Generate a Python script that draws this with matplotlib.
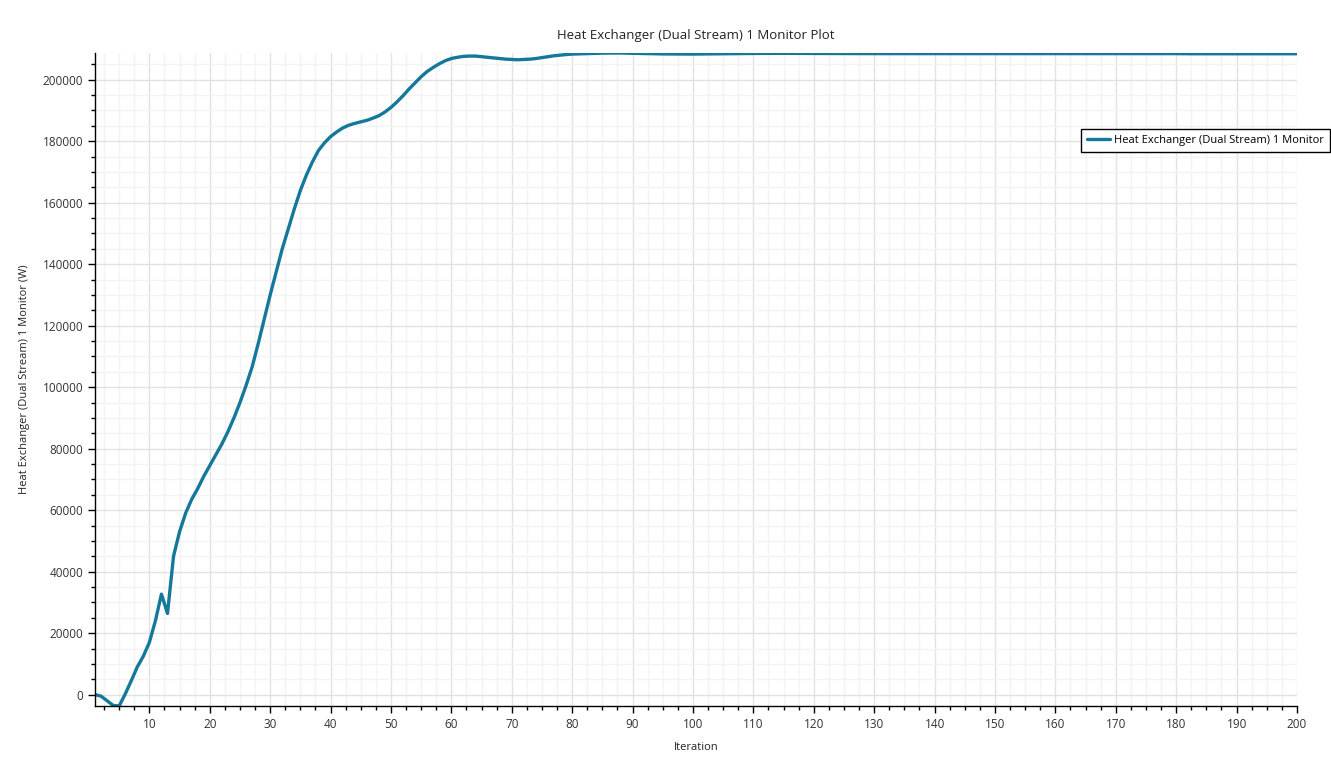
import matplotlib
matplotlib.use("Agg")
import matplotlib.pyplot as plt
from matplotlib.ticker import MultipleLocator, FormatStrFormatter

plt.rcParams['font.family'] = ['Open Sans', 'DejaVu Sans']

iterations = list(range(1, 81)) + [85, 88, 90, 95, 100, 105, 110, 115, 120, 130, 140, 150, 160, 170, 180, 183, 190, 200]
heat_w = [
    0, -500, -2000, -3500, -3700, 200, 4500, 9000, 12500, 17000,
    24000, 32700, 26400, 45000, 53000, 59000, 63500, 67000, 71000, 74500,
    78000, 81500, 85500, 90000, 95000, 100500, 106500, 114000, 122000, 130000,
    137500, 145000, 151500, 158000, 164000, 169000, 173300, 177000, 179500, 181500,
    183000, 184300, 185200, 185800, 186300, 186800, 187500, 188300, 189500, 191000,
    192800, 194800, 197000, 199000, 201000, 202700, 204000, 205200, 206200, 206900,
    207300, 207600, 207700, 207700, 207500, 207300, 207100, 206900, 206700, 206600,
    206500, 206600, 206700, 206900, 207200, 207500, 207800, 208000, 208200, 208350,
    208650, 208700, 208600, 208400, 208350, 208450, 208550, 208600, 208550, 208500,
    208500, 208500, 208500, 208500, 208500, 208450, 208450, 208450,
]

series_name = "Heat Exchanger (Dual Stream) 1 Monitor"
title = "Heat Exchanger (Dual Stream) 1 Monitor Plot"
x_label = "Iteration"
y_label = "Heat Exchanger (Dual Stream) 1 Monitor (W)"

W, H = 1331, 765
fig = plt.figure(figsize=(W / 100, H / 100), dpi=100)
ax = fig.add_axes([95 / W, 1 - 706 / H, (1297 - 95) / W, (706 - 53) / H])

ax.plot(iterations, heat_w, color='#14789a', lw=2.4, label=series_name, solid_capstyle='round')

ax.set_xlim(1, 200)
ax.set_ylim(min(heat_w), max(heat_w))

ax.xaxis.set_major_locator(MultipleLocator(10))
ax.xaxis.set_minor_locator(MultipleLocator(2.5))
ax.yaxis.set_major_locator(MultipleLocator(20000))
ax.yaxis.set_minor_locator(MultipleLocator(5000))
ax.yaxis.set_major_formatter(FormatStrFormatter('%d'))

ax.grid(which='major', color='#e2e2e2', lw=1.0)
ax.grid(which='minor', color='#f3f3f3', lw=1.0)
ax.set_axisbelow(True)

for s in ('top', 'right'):
    ax.spines[s].set_visible(False)
for s in ('left', 'bottom'):
    ax.spines[s].set_color('black')
    ax.spines[s].set_linewidth(1.0)

ax.tick_params(which='major', length=5, width=1, colors='black', labelcolor='#333333', labelsize=8.5)
ax.tick_params(which='minor', length=3, width=1, colors='black')

ax.set_title(title, fontsize=9.5, color='#222222', pad=10)
ax.set_xlabel(x_label, fontsize=8, color='#222222', labelpad=8)
ax.set_ylabel(y_label, fontsize=8, color='#222222', labelpad=9)

leg = ax.legend(loc='upper right', bbox_to_anchor=(1330 / W, 1 - 129 / H),
                bbox_transform=fig.transFigure, fancybox=False, edgecolor='black',
                framealpha=1, fontsize=8, handlelength=2.0, borderpad=0.55,
                handletextpad=0.4, borderaxespad=0)
leg.get_frame().set_linewidth(1.0)

fig.savefig("out.png", dpi=100)
